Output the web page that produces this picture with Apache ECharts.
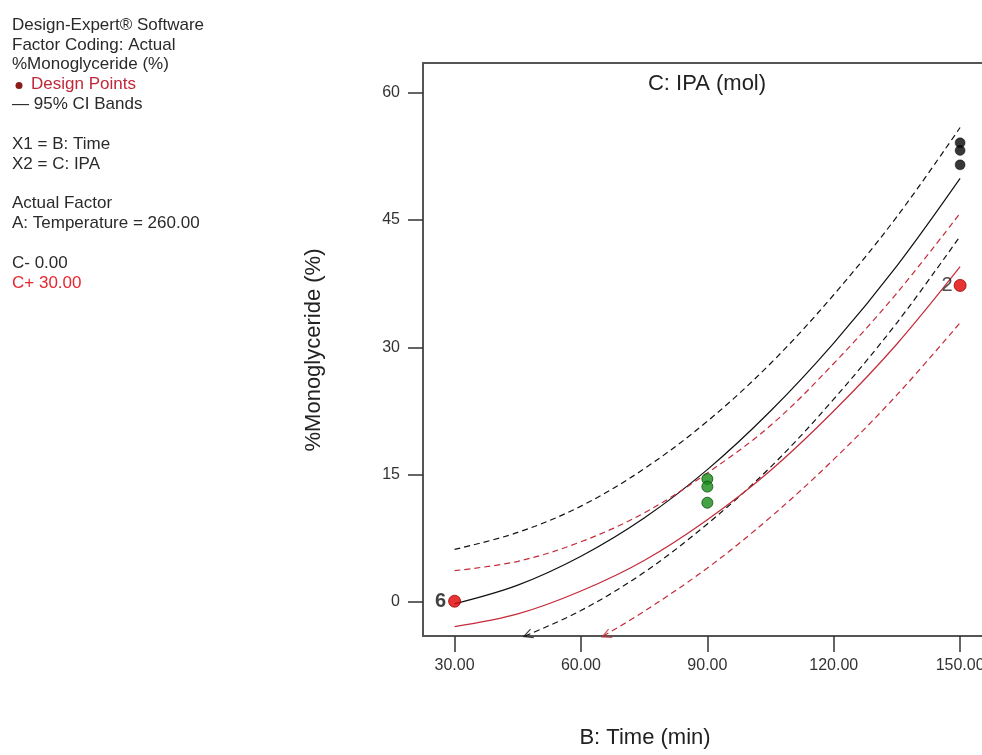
<!DOCTYPE html>
<html>
<head>
<meta charset="utf-8">
<script src="https://cdn.jsdelivr.net/npm/echarts@6/dist/echarts.min.js"></script>
<style>
  html, body { margin: 0; padding: 0; background: #ffffff; }
  #chart { width: 982px; height: 755px; }
</style>
</head>
<body>
<div id="chart"></div>
<script>
// Axis tick values
const timeTicks = [30, 60, 90, 120, 150];
const respTicks = [0, 15, 30, 45, 60];

// Predicted response and 95% CI bands vs. time (min)
const curveTime = [30, 45, 60, 75, 90, 105, 120, 135, 150];
// C- (IPA = 0.00), black
const lowMean  = [-0.2, 2.0, 5.4, 9.9, 15.6, 22.5, 30.5, 39.6, 49.9];
const lowUpper = [6.2, 8.2, 11.3, 15.7, 21.3, 28.1, 36.2, 45.4, 55.9];
const lowLowerTime = [46.7, 60, 75, 90, 105, 120, 135, 150];
const lowLower     = [-4.0, -1.0, 3.5, 9.2, 15.9, 23.9, 32.9, 43.1];
// C+ (IPA = 30.00), red
const highMean  = [-2.9, -1.4, 1.3, 4.9, 9.7, 15.5, 22.5, 30.4, 39.5];
const highUpper = [3.7, 4.8, 7.1, 10.5, 15.2, 20.8, 28.1, 36.4, 45.8];
const highLowerTime = [65.3, 75, 90, 105, 120, 135, 150];
const highLower     = [-4.0, -1.1, 4.0, 10.0, 16.8, 24.4, 32.9];

// Design points
const blackPtsTime = [150, 150, 150];
const blackPtsVal  = [54.1, 53.2, 51.5];
const greenPtsTime = [90, 90, 90];
const greenPtsVal  = [14.5, 13.6, 11.7];
const redPtsTime = [30, 150];
const redPtsVal  = [0.1, 37.3];
const redPtsTag  = ['6', '2'];

// Side annotation text
const infoLines = [
  'Design-Expert\u00ae Software',
  'Factor Coding: Actual',
  '%Monoglyceride (%)',
  'Design Points',
  '\u2014 95% CI Bands',
  '',
  'X1 = B: Time',
  'X2 = C: IPA',
  '',
  'Actual Factor',
  'A: Temperature = 260.00',
  '',
  'C- 0.00',
  'C+ 30.00'
];

const FONT = '"Liberation Sans", Arial, Helvetica, sans-serif';
const RED_LINE = '#c42b3a';
const X_MIN = 22.5, X_MAX = 157.5;

function pairs(xs, ys) { return xs.map((x, i) => [x, ys[i]]); }

function band(name, xs, ys, color, dashed) {
  return {
    name, type: 'line', data: pairs(xs, ys), smooth: 0.35,
    symbol: 'none', silent: true,
    lineStyle: { color, width: 1.2, type: dashed ? [6, 4] : 'solid' },
    z: 3
  };
}

const chart = echarts.init(document.getElementById('chart'), null, { renderer: 'canvas' });

// side text graphics
const graphics = [];
const lineStep = 19.85, firstY = 25;
infoLines.forEach((t, i) => {
  if (!t) return;
  let fill = '#2a2a2a';
  let x = 12;
  if (i === 3) { fill = '#c0283a'; x = 31; }
  if (i === 13) fill = '#e8262f';
  graphics.push({
    type: 'text', x, y: firstY + i * lineStep,
    style: { text: t, fill, font: '17px ' + FONT, verticalAlign: 'middle', align: 'left' }
  });
});
graphics.push({
  type: 'circle', shape: { cx: 19, cy: firstY + 3 * lineStep + 1, r: 3.5 },
  style: { fill: '#8b1a1a' }
});
// plot title and axis names
graphics.push({
  type: 'text', x: 707, y: 84,
  style: { text: 'C: IPA (mol)', fill: '#222', font: '22px ' + FONT, align: 'center', verticalAlign: 'middle' }
});
graphics.push({
  type: 'text', x: 645, y: 738,
  style: { text: 'B: Time (min)', fill: '#222', font: '22px ' + FONT, align: 'center', verticalAlign: 'middle' }
});
graphics.push({
  type: 'text', x: 314, y: 350, rotation: Math.PI / 2,
  style: { text: '%Monoglyceride (%)', fill: '#222', font: '22px ' + FONT, align: 'center', verticalAlign: 'middle' }
});

const arrowPath = 'path://M10,0 L0,5 L10,10';

const option = {
  animation: false,
  backgroundColor: '#ffffff',
  graphic: graphics,
  grid: {
    left: 423, top: 63, width: 568.7, height: 573,
    outerBoundsMode: 'none', containLabel: false, show: false
  },
  xAxis: [{
    type: 'value', min: X_MIN, max: X_MAX,
    splitLine: { show: false },
    axisLine: { show: true, onZero: false, lineStyle: { color: '#555', width: 2 } },
    axisTick: { show: true, customValues: timeTicks, length: 16, lineStyle: { color: '#333', width: 1.5 } },
    axisLabel: {
      customValues: timeTicks, formatter: v => v.toFixed(2),
      fontSize: 16, color: '#333', margin: 22, fontFamily: FONT
    }
  }, {
    // frame line along the top of the plot
    type: 'value', position: 'top', min: X_MIN, max: X_MAX,
    splitLine: { show: false },
    axisLine: { show: true, onZero: false, lineStyle: { color: '#555', width: 2 } },
    axisTick: { show: false }, axisLabel: { show: false }
  }],
  yAxis: {
    type: 'value', min: -4.0, max: 63.5,
    splitLine: { show: false },
    axisLine: { show: true, onZero: false, lineStyle: { color: '#555', width: 2 } },
    axisTick: { show: true, customValues: respTicks, length: 15, lineStyle: { color: '#333', width: 1.5 } },
    axisLabel: {
      customValues: respTicks, formatter: v => String(v),
      fontSize: 16, color: '#333', margin: 23, fontFamily: FONT
    }
  },
  series: [
    band('C- upper', curveTime, lowUpper, '#111', true),
    band('C- mean', curveTime, lowMean, '#111', false),
    band('C- lower', lowLowerTime, lowLower, '#111', true),
    band('C+ upper', curveTime, highUpper, RED_LINE, true),
    band('C+ mean', curveTime, highMean, RED_LINE, false),
    band('C+ lower', highLowerTime, highLower, RED_LINE, true),
    {
      name: 'band ends', type: 'scatter', silent: true, z: 4,
      data: [
        { value: [lowLowerTime[0], lowLower[0]], symbolRotate: 21, itemStyle: { borderColor: '#111' } },
        { value: [highLowerTime[0], highLower[0]], symbolRotate: 24, itemStyle: { borderColor: RED_LINE } }
      ],
      symbol: arrowPath, symbolSize: [9, 9], symbolOffset: [3, -1],
      itemStyle: { color: 'none', borderWidth: 1.2 }
    },
    {
      name: 'C- points', type: 'scatter', z: 5,
      data: pairs(blackPtsTime, blackPtsVal),
      symbol: 'circle', symbolSize: 10,
      itemStyle: { color: '#050505', borderColor: '#000', borderWidth: 0.5 }
    },
    {
      name: 'mid points', type: 'scatter', z: 5,
      data: pairs(greenPtsTime, greenPtsVal),
      symbol: 'circle', symbolSize: 11,
      itemStyle: { color: '#168c16', borderColor: '#0b4f0b', borderWidth: 1 }
    },
    {
      name: 'C+ points', type: 'scatter', z: 6,
      data: redPtsTime.map((t, i) => ({
        value: [t, redPtsVal[i]],
        label: {
          show: true, formatter: redPtsTag[i], position: 'left',
          distance: i === 0 ? 2 : 1,
          fontSize: 20, fontFamily: FONT,
          fontWeight: i === 0 ? 'bold' : 'normal',
          color: i === 0 ? '#111' : '#222'
        }
      })),
      symbol: 'circle', symbolSize: 12,
      itemStyle: { color: '#e00000', borderColor: '#a00000', borderWidth: 1 }
    }
  ]
};

chart.setOption(option);
</script>
</body>
</html>
